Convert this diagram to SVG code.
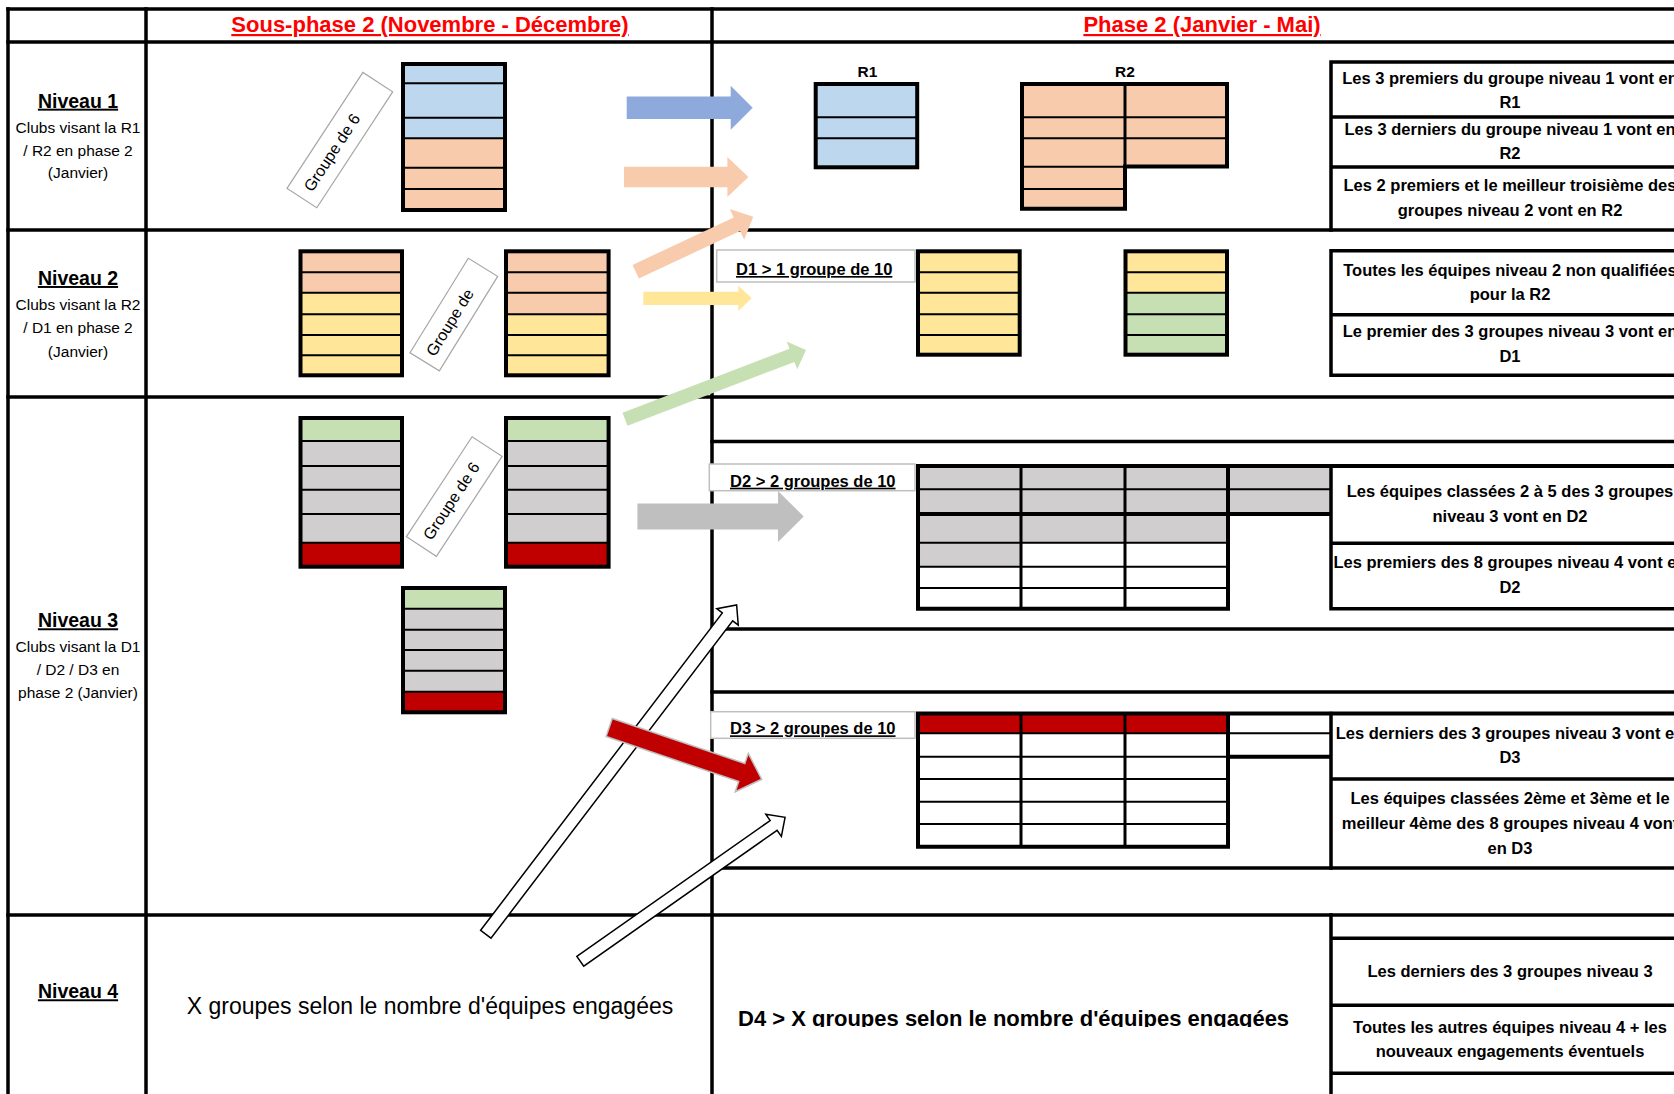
<svg xmlns="http://www.w3.org/2000/svg" width="1674" height="1094" viewBox="0 0 1674 1094">
<defs>
<style>
.g{stroke:#000;stroke-width:3.5;fill:none;stroke-linecap:square}
.tb{stroke:#000;stroke-width:4;fill:none;stroke-linejoin:miter}
.tv{stroke:#000;stroke-width:3;fill:none}
.ti{stroke:#000;stroke-width:2;fill:none}
.b{fill:#BDD7EE}.o{fill:#F8CBAD}.y{fill:#FFE699}.gr{fill:#C6E0B4}.gy{fill:#D0CECE}.r{fill:#C00000}
text{font-family:'Liberation Sans',Arial,sans-serif;fill:#000}
.hdr{font-size:22px;font-weight:bold;fill:#FF0000;text-anchor:middle;text-decoration:underline}
.niv{font-size:19.5px;font-weight:bold;text-anchor:middle;text-decoration:underline}
.sub{font-size:15.5px;text-anchor:middle}
.pn{font-size:16.5px;font-weight:bold;text-anchor:middle}
.lb{font-size:16.5px;font-weight:bold;text-decoration:underline}
.gt{font-size:16px}
.rl{font-size:15.5px;font-weight:bold;text-anchor:middle}
.n4{font-size:23px;text-anchor:middle}
.d4{font-size:22px;font-weight:bold}
.lbox{fill:#fff;stroke:#BFBFBF;stroke-width:1.5}
.gbox{fill:#fff;stroke:#A6A6A6;stroke-width:1.2}
.wa{fill:#fff;stroke:#000;stroke-width:1.5}
</style>
<clipPath id="d4clip"><rect x="714" y="917" width="615" height="110"/></clipPath>
</defs>
<rect width="1674" height="1094" fill="#fff"/>

<g id="grid" class="g">
<path d="M8,9H1674"/>
<path d="M8,9V1094"/>
<path d="M146,9V1094"/>
<path d="M712,9V1094"/>
<path d="M8,42H1674"/>
<path d="M8,230H1674"/>
<path d="M8,397H1674"/>
<path d="M8,915H1674"/>
<path d="M712,441.5H1674"/>
<path d="M712,629H1674"/>
<path d="M712,692H1674"/>
<path d="M712,868H1674"/>
</g>

<g id="headers">
<text class="hdr" x="430" y="32">Sous-phase 2 (Novembre - Décembre)</text>
<text class="hdr" x="1202" y="32">Phase 2 (Janvier - Mai)</text>
</g>

<g id="niveau1-label">
<text class="niv" x="78" y="107.7">Niveau 1</text>
<text class="sub" x="78" y="132.7">Clubs visant la R1</text>
<text class="sub" x="78" y="156">/ R2 en phase 2</text>
<text class="sub" x="78" y="178.3">(Janvier)</text>
</g>
<g id="niveau2-label">
<text class="niv" x="78" y="285">Niveau 2</text>
<text class="sub" x="78" y="310">Clubs visant la R2</text>
<text class="sub" x="78" y="333.3">/ D1 en phase 2</text>
<text class="sub" x="78" y="356.7">(Janvier)</text>
</g>
<g id="niveau3-label">
<text class="niv" x="78" y="627.3">Niveau 3</text>
<text class="sub" x="78" y="651.7">Clubs visant la D1</text>
<text class="sub" x="78" y="675">/ D2 / D3 en</text>
<text class="sub" x="78" y="698.3">phase 2 (Janvier)</text>
</g>
<g id="niveau4-label">
<text class="niv" x="78" y="998.3">Niveau 4</text>
</g>

<g id="n1-group">
<rect class="b" x="403" y="64" width="102" height="74.3"/>
<rect class="o" x="403" y="138.3" width="102" height="71.7"/>
<path class="ti" d="M403,83.3H505M403,117.7H505M403,138.3H505M403,167.7H505M403,189H505"/>
<rect class="tb" x="403" y="64" width="102" height="146"/>
</g>
<g id="n1-groupe-label" transform="translate(287,188.3) rotate(-56.8)">
<rect class="gbox" width="138.6" height="35.6"/>
<text class="gt" x="10" y="23.5">Groupe de 6</text>
</g>

<g id="n2-group-left">
<rect class="o" x="300.5" y="251.3" width="101.5" height="41.4"/>
<rect class="y" x="300.5" y="292.7" width="101.5" height="82.6"/>
<path class="ti" d="M300.5,272.3H402M300.5,292.7H402M300.5,314.3H402M300.5,335H402M300.5,355.3H402"/>
<rect class="tb" x="300.5" y="251.3" width="101.5" height="124"/>
</g>
<g id="n2-group-right">
<rect class="o" x="506" y="251.3" width="102.6" height="63"/>
<rect class="y" x="506" y="314.3" width="102.6" height="61"/>
<path class="ti" d="M506,272.3H608.6M506,292.7H608.6M506,314.3H608.6M506,335H608.6M506,355.3H608.6"/>
<rect class="tb" x="506" y="251.3" width="102.6" height="124"/>
</g>
<g id="n2-groupe-label" transform="translate(410,352.7) rotate(-58.3)">
<rect class="gbox" width="111" height="34.5"/>
<text class="gt" x="9" y="23.5">Groupe de</text>
</g>

<g id="n3-group-left">
<rect class="gr" x="300.5" y="418" width="101.5" height="23"/>
<rect class="gy" x="300.5" y="441" width="101.5" height="101.7"/>
<rect class="r" x="300.5" y="542.7" width="101.5" height="24"/>
<path class="ti" d="M300.5,441H402M300.5,466H402M300.5,489.7H402M300.5,514H402M300.5,542.7H402"/>
<rect class="tb" x="300.5" y="418" width="101.5" height="148.7"/>
</g>
<g id="n3-group-right">
<rect class="gr" x="506" y="418" width="102.6" height="23"/>
<rect class="gy" x="506" y="441" width="102.6" height="101.7"/>
<rect class="r" x="506" y="542.7" width="102.6" height="24"/>
<path class="ti" d="M506,441H608.6M506,466H608.6M506,489.7H608.6M506,514H608.6M506,542.7H608.6"/>
<rect class="tb" x="506" y="418" width="102.6" height="148.7"/>
</g>
<g id="n3-group-bottom">
<rect class="gr" x="403" y="588" width="102" height="20.7"/>
<rect class="gy" x="403" y="608.7" width="102" height="83"/>
<rect class="r" x="403" y="691.7" width="102" height="20.6"/>
<path class="ti" d="M403,608.7H505M403,629.7H505M403,650H505M403,670.8H505M403,691.7H505"/>
<rect class="tb" x="403" y="588" width="102" height="124.3"/>
</g>
<g id="n3-groupe-label" transform="translate(406.4,536.7) rotate(-56.7)">
<rect class="gbox" width="119.6" height="35.9"/>
<text class="gt" x="10" y="23.5">Groupe de 6</text>
</g>

<g id="n4-text">
<text class="n4" x="430" y="1013.8">X groupes selon le nombre d'équipes engagées</text>
</g>

<g id="r1-table">
<text class="rl" x="867.5" y="77">R1</text>
<rect class="b" x="815.7" y="84" width="101.5" height="83.3"/>
<path class="ti" d="M815.7,117.3H917.2M815.7,138.3H917.2"/>
<rect class="tb" x="815.7" y="84" width="101.5" height="83.3"/>
</g>
<g id="r2-table">
<text class="rl" x="1125" y="77">R2</text>
<path class="o" d="M1022,84H1227V166.5H1125V208.7H1022Z"/>
<path class="ti" d="M1022,117.3H1227M1022,138.3H1227M1022,166.7H1125M1022,189H1125"/>
<path class="tv" d="M1125,84V166.5"/>
<path class="tb" d="M1022,84H1227V166.5H1125V208.7H1022Z"/>
</g>

<g id="d1-label">
<rect class="lbox" x="716.7" y="250" width="198.3" height="32"/>
<text class="lb" x="736" y="275">D1 &gt; 1 groupe de 10</text>
</g>
<g id="d1-table-left">
<rect class="y" x="918" y="251.3" width="101.7" height="103.4"/>
<path class="ti" d="M918,272.3H1019.7M918,292.7H1019.7M918,314.3H1019.7M918,335H1019.7"/>
<rect class="tb" x="918" y="251.3" width="101.7" height="103.4"/>
</g>
<g id="d1-table-right">
<rect class="y" x="1125.5" y="251.3" width="101.5" height="41.4"/>
<rect class="gr" x="1125.5" y="292.7" width="101.5" height="62"/>
<path class="ti" d="M1125.5,272.3H1227M1125.5,292.7H1227M1125.5,314.3H1227M1125.5,335H1227"/>
<rect class="tb" x="1125.5" y="251.3" width="101.5" height="103.4"/>
</g>

<g id="d2-label">
<rect class="lbox" x="709.3" y="464" width="205.7" height="26.7"/>
<text class="lb" x="730" y="486.7">D2 &gt; 2 groupes de 10</text>
</g>
<g id="d2-table">
<rect class="gy" x="918" y="466" width="103" height="100.7"/>
<rect class="gy" x="1021" y="466" width="207" height="76.7"/>
<rect class="gy" x="1228" y="466" width="103" height="48"/>
<path class="ti" d="M918,489.3H1331M918,542.7H1228M918,566.7H1228M918,588H1228"/>
<path class="tv" d="M1021,466V608.7M1125,466V608.7"/>
<path class="tb" d="M916,466H1674M918,466V608.7H1228V466M918,514H1331"/>
</g>
<g id="d2-panel">
<path class="g" d="M1331,466V608.7M1331,543.3H1674M1331,608.7H1674"/>
<text class="pn" x="1510" y="496.7">Les équipes classées 2 à 5 des 3 groupes</text>
<text class="pn" x="1510" y="521.7">niveau 3 vont en D2</text>
<text class="pn" x="1510" y="568.3">Les premiers des 8 groupes niveau 4 vont en</text>
<text class="pn" x="1510" y="593.3">D2</text>
</g>

<g id="d3-label">
<rect class="lbox" x="710.7" y="711.7" width="204.3" height="26.6"/>
<text class="lb" x="730" y="734.3">D3 &gt; 2 groupes de 10</text>
</g>
<g id="d3-table">
<rect class="r" x="918" y="713.5" width="310" height="19.8"/>
<path class="ti" d="M918,733.3H1331M918,756.7H1228M918,779H1228M918,801.7H1228M918,824H1228"/>
<path class="tv" d="M1021,713.5V846.7M1125,713.5V846.7"/>
<path class="tb" d="M916,713.5H1674M918,713.5V846.7H1228V713.5M1228,756.7H1331"/>
</g>
<g id="d3-panel">
<path class="g" d="M1331,713.5V868M1331,779H1674"/>
<text class="pn" x="1510" y="739.3">Les derniers des 3 groupes niveau 3 vont en</text>
<text class="pn" x="1510" y="763.3">D3</text>
<text class="pn" x="1510" y="804">Les équipes classées 2ème et 3ème et le</text>
<text class="pn" x="1510" y="828.8">meilleur 4ème des 8 groupes niveau 4 vont</text>
<text class="pn" x="1510" y="854">en D3</text>
</g>

<g id="r-panel">
<path class="g" d="M1331,62V230M1331,62H1674M1331,117H1674M1331,167H1674"/>
<text class="pn" x="1510" y="84">Les 3 premiers du groupe niveau 1 vont en</text>
<text class="pn" x="1510" y="108">R1</text>
<text class="pn" x="1510" y="135">Les 3 derniers du groupe niveau 1 vont en</text>
<text class="pn" x="1510" y="159">R2</text>
<text class="pn" x="1510" y="191">Les 2 premiers et le meilleur troisième des</text>
<text class="pn" x="1510" y="215.5">groupes niveau 2 vont en R2</text>
</g>
<g id="d1-panel">
<path class="g" d="M1331,250.7V375.3M1331,250.7H1674M1331,314.7H1674M1331,375.3H1674"/>
<text class="pn" x="1510" y="276">Toutes les équipes niveau 2 non qualifiées</text>
<text class="pn" x="1510" y="300">pour la R2</text>
<text class="pn" x="1510" y="337">Le premier des 3 groupes niveau 3 vont en</text>
<text class="pn" x="1510" y="362">D1</text>
</g>
<g id="n4-panel">
<path class="g" d="M1331,915V1094M1331,938.3H1674M1331,1005.3H1674M1331,1073.3H1674"/>
<text class="pn" x="1510" y="977.3">Les derniers des 3 groupes niveau 3</text>
<text class="pn" x="1510" y="1032.7">Toutes les autres équipes niveau 4 + les</text>
<text class="pn" x="1510" y="1057.3">nouveaux engagements éventuels</text>
</g>
<g id="d4-text">
<text class="d4" x="738" y="1025.5" clip-path="url(#d4clip)">D4 &gt; X groupes selon le nombre d'équipes engagées</text>
</g>

<g id="connectors">
<polygon class="wa" transform="translate(485.8,934.2) rotate(-52.7)" points="0,-6.5 398.9,-6.5 398.9,-13.5 413.9,0 398.9,13.5 398.9,6.5 0,6.5"/>
<polygon class="wa" transform="translate(580.3,961.3) rotate(-35.1)" points="0,-6 236.3,-6 236.3,-13.5 250.3,0 236.3,13.5 236.3,6 0,6"/>
<polygon fill="#8EA9DB" transform="translate(626.7,107.8)" points="0,-11.25 104,-11.25 104,-22 126,0 104,22 104,11.25 0,11.25"/>
<polygon fill="#F8CBAD" transform="translate(624,177)" points="0,-10.3 103.4,-10.3 103.4,-20 124.4,0 103.4,20 103.4,10.3 0,10.3"/>
<polygon fill="#F8CBAD" transform="translate(635.7,271.7) rotate(-25.1)" points="0,-7.5 111.8,-7.5 111.8,-17 129.8,0 111.8,17 111.8,7.5 0,7.5"/>
<polygon fill="#FFE699" transform="translate(643.3,298.3)" points="0,-6.65 95,-6.65 95,-12.65 108.4,0 95,12.65 95,6.65 0,6.65"/>
<polygon fill="#C6E0B4" transform="translate(625,419.3) rotate(-20.95)" points="0,-7 178.8,-7 178.8,-14.8 193.8,0 178.8,14.8 178.8,7 0,7"/>
<polygon fill="#BFBFBF" transform="translate(637.4,516.5)" points="0,-13 140.6,-13 140.6,-25.5 166.3,0 140.6,25.5 140.6,13 0,13"/>
<polygon fill="#C00000" stroke="#BFBFBF" stroke-width="1.5" transform="translate(609.2,727.5) rotate(18.76)" points="0,-9.55 140,-9.55 140,-20.3 161,0 140,20.3 140,9.55 0,9.55"/>
</g>
</svg>
